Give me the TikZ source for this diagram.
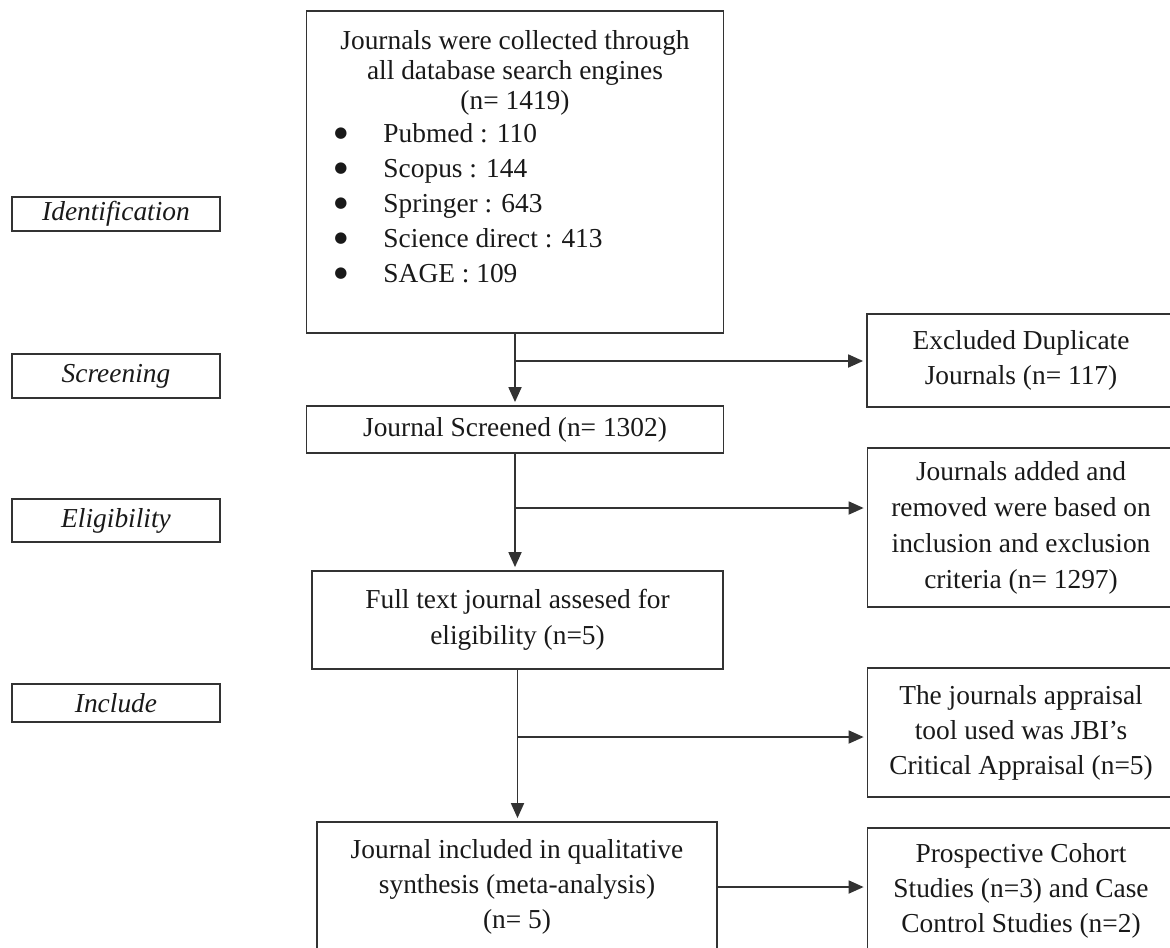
\documentclass[tikz,border=0pt]{standalone}
\usepackage{fontspec}
\setmainfont{Liberation Serif}
\newfontfamily\dotfont{DejaVu Sans}
\usetikzlibrary{arrows.meta}

\newcommand{\listdot}{\raisebox{2.2pt}{\dotfont\fontsize{7.5}{8}\selectfont ●}}

\begin{document}
\begin{tikzpicture}
    [x=0.5pt,y=-0.5pt,
     every node/.style={font=\fontsize{13.7}{17.5}\selectfont,text=black!90,inner sep=0pt},
     box/.style={draw=black!80,line width=0.9pt,align=center},
     stage/.style={box,font=\fontsize{13.7}{17.5}\selectfont\itshape,minimum width=104pt},
     arr/.style={draw=black!80,line width=0.9pt,-{Triangle[length=7.5pt,width=6.5pt]},shorten >=1.5pt}]
    \clip (0,0) rectangle (1170,947);
    % stages on the left
    \node[stage,minimum height=17pt] (ident) at (116,214) {Identification};
    \node[stage,minimum height=22pt] (screen) at (116,376) {Screening};
    \node[stage,minimum height=21.5pt] (elig) at (116,520.5) {Eligibility};
    \node[stage,minimum height=19pt] (incl) at (116,703) {Include};
    % main column
    \node[box,minimum width=208.5pt,minimum height=161pt] (collect) at (515,172) {};
    \node[align=center,font=\fontsize{13.7}{15}\selectfont] (collecthead) at (515,73)
      {Journals were collected through\\ all database search engines\\ (n= 1419)};
    \node[anchor=west] (collectlist) at (334,205)
      {\begin{tabular}{@{}l@{\hspace{18pt}}l@{}}
        \listdot & Pubmed : 110\\
        \listdot & Scopus : 144\\
        \listdot & Springer : 643\\
        \listdot & Science direct : 413\\
        \listdot & SAGE : 109
       \end{tabular}};
    \node[box,minimum width=208.5pt,minimum height=23.5pt] (screened) at (515,429.5) {Journal Screened (n= 1302)};
    \node[box,minimum width=205.5pt,minimum height=49pt,font=\fontsize{13.7}{18}\selectfont] (fulltext) at (517.5,620)
      {Full text journal assesed for\\ eligibility (n=5)};
    \node[box,minimum width=200pt,minimum height=65pt] (included) at (517,887)
      {Journal included in qualitative\\ synthesis (meta-analysis)\\ (n= 5)};
    % right column
    \node[box,minimum width=154pt,minimum height=46.5pt] (dup) at (1021,360.5) {Excluded Duplicate\\ Journals (n= 117)};
    \node[box,minimum width=153.5pt,minimum height=79.5pt,font=\fontsize{13.7}{18}\selectfont] (added) at (1021,527.5)
      {Journals added and\\ removed were based on\\ inclusion and exclusion\\ criteria (n= 1297)};
    \node[box,minimum width=153.5pt,minimum height=64.5pt] (appraise) at (1021,732.5)
      {The journals appraisal\\ tool used was JBI's\\ Critical Appraisal (n=5)};
    \node[box,minimum width=153.5pt,minimum height=63pt] (studies) at (1021,891)
      {Prospective Cohort\\ Studies (n=3) and Case\\ Control Studies (n=2)};
    % connectors
    \coordinate (b1) at (515,361);
    \coordinate (b2) at (515,508);
    \coordinate (b3) at (517.5,737);
    \draw[arr] (collect.south) -- (screened.north);
    \draw[arr] (b1) -- (b1 -| dup.west);
    \draw[arr] (screened.south) -- (screened.south |- fulltext.north);
    \draw[arr] (b2) -- (b2 -| added.west);
    \draw[arr] (fulltext.south) -- (fulltext.south |- included.north);
    \draw[arr] (b3) -- (b3 -| appraise.west);
    \draw[arr] (included.east) -- (included.east -| studies.west);
\end{tikzpicture}
\end{document}
